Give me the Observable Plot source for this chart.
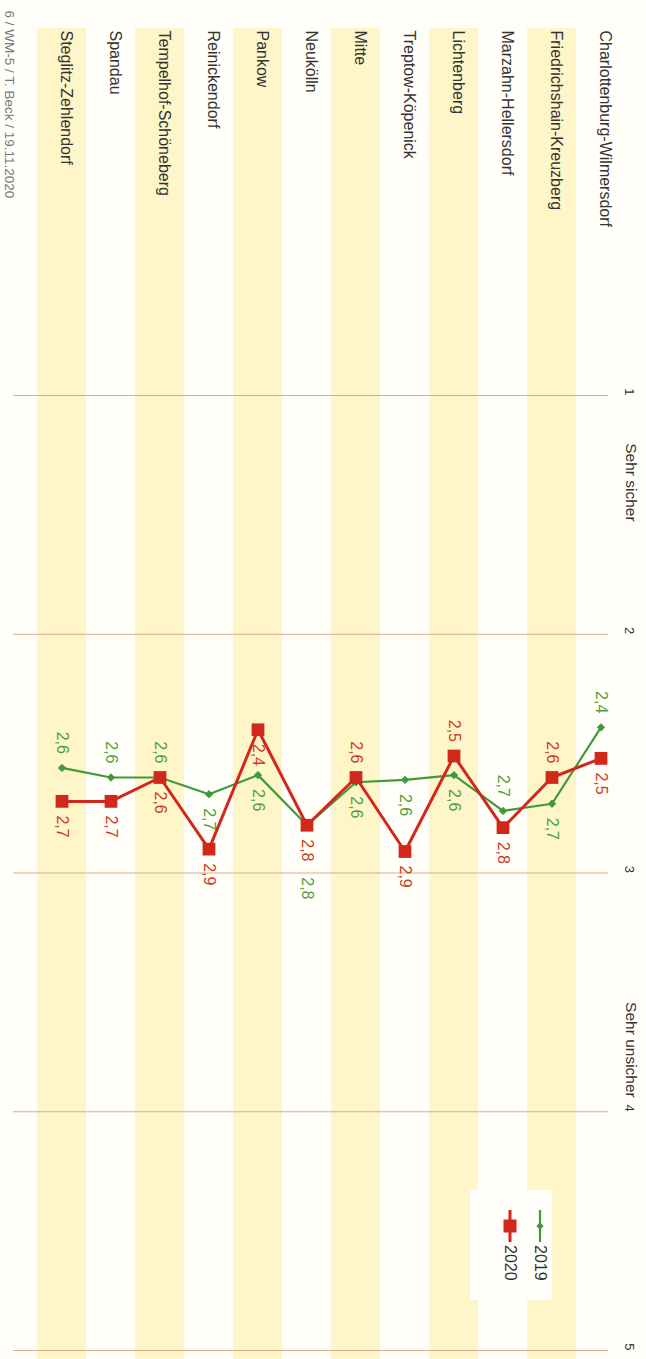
<!DOCTYPE html>
<html><head><meta charset="utf-8">
<script src="https://cdn.jsdelivr.net/npm/d3@7"></script>
<script src="https://cdn.jsdelivr.net/npm/@observablehq/plot@0.6"></script>
<style>
html,body{margin:0;padding:0;background:#fffef8;}
#wrap{position:relative;width:646px;height:1359px;overflow:hidden;font-family:"Liberation Sans",Arial,sans-serif;}
#wrap svg{display:block;}
#legend{position:absolute;left:470px;top:1190px;}
</style></head><body><div id="wrap"></div>
<script>
// Districts, top-down as in the original (unrotated) chart
const districts = [
  "Charlottenburg-Wilmersdorf","Friedrichshain-Kreuzberg","Marzahn-Hellersdorf",
  "Lichtenberg","Treptow-Köpenick","Mitte","Neukölln","Pankow","Reinickendorf",
  "Tempelhof-Schöneberg","Spandau","Steglitz-Zehlendorf"
];
const values2019 = [2.39, 2.71, 2.74, 2.59, 2.61, 2.62, 2.80, 2.59, 2.67, 2.60, 2.60, 2.56];
const values2020 = [2.52, 2.60, 2.81, 2.51, 2.91, 2.60, 2.80, 2.40, 2.90, 2.60, 2.70, 2.70];
const seriesNames = ["2019", "2020"];
const valueTicks = [1, 2, 3, 4, 5];
const scaleNoteLow = "Sehr sicher";
const scaleNoteHigh = "Sehr unsicher";
const footnote = "6 / WM-5 / T. Beck / 19.11.2020";

const green = "#3f9a3c", red = "#d2281c";
const greenText = "#4f9e40", redText = "#cc3a26";

// label placement (where value labels sit relative to their marker)
const aboveLabels = {
  "2019": ["Charlottenburg-Wilmersdorf","Marzahn-Hellersdorf","Tempelhof-Schöneberg","Spandau","Steglitz-Zehlendorf"],
  "2020": ["Friedrichshain-Kreuzberg","Lichtenberg","Mitte"]
};
const farBelowLabels = {"2019": ["Neukölln"], "2020": []};

const rows = districts.flatMap((d, i) => [
  {district: d, series: "2019", value: values2019[i]},
  {district: d, series: "2020", value: values2020[i]}
]);
rows.forEach(r => {
  r.pos = aboveLabels[r.series].includes(r.district) ? "above"
        : farBelowLabels[r.series].includes(r.district) ? "far" : "below";
  r.label = (Math.round(r.value * 10) / 10).toFixed(1).replace(".", ",");
});
const s19 = rows.filter(r => r.series === "2019");
const s20 = rows.filter(r => r.series === "2020");
const stripes = districts.filter((d, i) => i % 2 === 1);

function labelMarks(data, color) {
  const common = {x: "district", y: "value", text: "label", rotate: 90, fill: color, fontSize: 16};
  return [
    Plot.text(data.filter(r => r.pos === "above"), {...common, textAnchor: "end", dy: -14}),
    Plot.text(data.filter(r => r.pos === "below"), {...common, textAnchor: "start", dy: 14}),
    Plot.text(data.filter(r => r.pos === "far"), {...common, textAnchor: "start", dy: 52})
  ];
}

const chart = Plot.plot({
  width: 646, height: 1359,
  marginTop: 28, marginBottom: 0, marginLeft: 13, marginRight: 38,
  x: {domain: districts.slice().reverse(), range: [32, 630], padding: 0, axis: null},
  y: {domain: [1, 5], range: [395, 1350], axis: null},
  style: {background: "transparent", fontFamily: "'Liberation Sans', Arial, sans-serif"},
  marks: [
    Plot.cell(stripes, {x: d => d, fill: "#fef6c8", inset: 0}),
    Plot.ruleY(valueTicks, {stroke: "#d9ad88", strokeWidth: 1.1}),
    Plot.text(valueTicks, {y: d => d, frameAnchor: "right", dx: 21, rotate: 90, fontSize: 13, fill: "#333"}),
    Plot.text([scaleNoteLow], {y: [1.2], frameAnchor: "right", dx: 22, rotate: 90, textAnchor: "start", fontSize: 15.5, fill: "#333"}),
    Plot.text([scaleNoteHigh], {y: [4], frameAnchor: "right", dx: 22, dy: -14, rotate: 90, textAnchor: "end", fontSize: 15.5, fill: "#333"}),
    Plot.text(districts, {x: d => d, frameAnchor: "top", dx: 10, dy: 2, rotate: 90, textAnchor: "start", fontSize: 16, fill: "#333"}),
    Plot.text([footnote], {frameAnchor: "top-left", dx: 1, dy: -18, rotate: 90, textAnchor: "start", fontSize: 13.5, fill: "#777"}),
    Plot.line(s19, {x: "district", y: "value", stroke: green, strokeWidth: 2.2}),
    Plot.dot(s19, {x: "district", y: "value", symbol: "diamond2", r: 3.3, fill: green, stroke: green, strokeWidth: 1}),
    Plot.line(s20, {x: "district", y: "value", stroke: red, strokeWidth: 3}),
    Plot.dot(s20, {x: "district", y: "value", symbol: "square", r: 7.2, fill: red, stroke: "none"}),
    ...labelMarks(s19, greenText),
    ...labelMarks(s20, redText)
  ]
});
const wrap = document.getElementById("wrap");
wrap.appendChild(chart);

// Legend (rotated, like the chart)
const lg = d3.create("svg").attr("id", "legend").attr("width", 82).attr("height", 110);
lg.append("rect").attr("width", 82).attr("height", 110).attr("fill", "#fffefa");
const legendItems = [{name: seriesNames[0], color: green, cx: 70}, {name: seriesNames[1], color: red, cx: 40}];
legendItems.forEach((it, i) => {
  lg.append("line").attr("x1", it.cx).attr("x2", it.cx).attr("y1", 20).attr("y2", 52)
    .attr("stroke", it.color).attr("stroke-width", i ? 3 : 2.2);
  if (i === 0) {
    lg.append("path").attr("d", d3.symbol(d3.symbolDiamond2, 34)()).attr("transform", `translate(${it.cx},36)`).attr("fill", it.color);
  } else {
    lg.append("rect").attr("x", it.cx - 6.5).attr("y", 29.5).attr("width", 13).attr("height", 13).attr("fill", it.color);
  }
  lg.append("text").attr("transform", `translate(${it.cx},55) rotate(90)`).attr("dy", "0.32em")
    .attr("font-size", 16).attr("fill", "#333").attr("font-family", "'Liberation Sans', Arial, sans-serif").text(it.name);
});
wrap.appendChild(lg.node());
</script>
</body></html>
